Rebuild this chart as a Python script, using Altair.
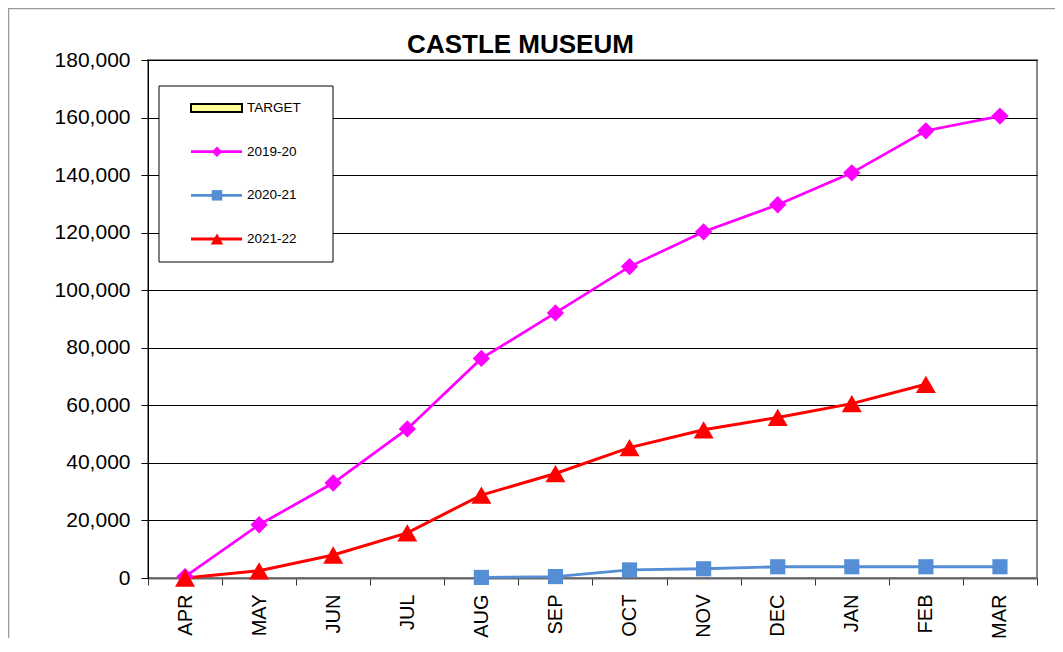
import altair as alt
import pandas as pd

# ---------------- data ----------------
months = ["APR", "MAY", "JUN", "JUL", "AUG", "SEP", "OCT", "NOV", "DEC", "JAN", "FEB", "MAR"]
series_names = ["TARGET", "2019-20", "2020-21", "2021-22"]
visitors_2019_20 = [500, 18500, 33000, 51800, 76300, 92100, 108200, 120300, 129700, 140800, 155400, 160500]
visitors_2020_21 = [None, None, None, None, 200, 500, 2800, 3200, 3900, 3900, 3900, 3900]
visitors_2021_22 = [0, 2500, 8000, 15700, 28800, 36300, 45300, 51500, 55800, 60600, 67300, None]
y_ticks = [0, 20000, 40000, 60000, 80000, 100000, 120000, 140000, 160000, 180000]
title_text = "CASTLE MUSEUM"

rows = []
for name, vals in [("2019-20", visitors_2019_20), ("2020-21", visitors_2020_21), ("2021-22", visitors_2021_22)]:
    for m, v in zip(months, vals):
        if v is not None:
            rows.append({"month": m, "series": name, "visitors": v})
df = pd.DataFrame(rows)
legend_df = pd.DataFrame({"series": series_names})
one_row = pd.DataFrame({"k": [0]})

FONT = "Liberation Sans"
line_series = series_names[1:]
color_scale = alt.Scale(domain=line_series, range=["#FF00FF", "#558ED5", "#FF0000"])
shape_scale = alt.Scale(domain=line_series, range=["diamond", "square", "triangle-up"])
width_scale = alt.Scale(domain=line_series, range=[2.7, 3, 4.5])
size_scale = alt.Scale(type="ordinal", domain=line_series, range=[300, 230, 400])
legend_size_scale = alt.Scale(type="ordinal", domain=line_series, range=[110, 110, 160])

x_enc = alt.X(
    "month:N", sort=months, bandPosition=0.5,
    scale=alt.Scale(type="band", domain=months, paddingInner=0, paddingOuter=0),
    axis=alt.Axis(title=None, labelAngle=270, tickBand="extent", labelFontSize=20,
                  labelPadding=9, tickSize=7, tickColor="#333333", domainColor="#666666",
                  domainWidth=2, grid=False, labelFont=FONT, labelColor="black"),
)
y_enc = alt.Y(
    "visitors:Q", scale=alt.Scale(domain=[0, 180000], nice=False),
    axis=alt.Axis(title=None, values=y_ticks, format=",.0f", labelFontSize=21, labelPadding=11,
                  tickSize=7, tickColor="black", domainColor="black", grid=True,
                  gridColor="black", gridWidth=1, labelFont=FONT, labelColor="black"),
)

lines = alt.Chart(df).mark_line().encode(
    x=x_enc, y=y_enc,
    color=alt.Color("series:N", scale=color_scale, legend=None),
    strokeWidth=alt.StrokeWidth("series:N", scale=width_scale, legend=None),
    detail="series:N",
)
points = alt.Chart(df).mark_point(filled=True, opacity=1).encode(
    x=x_enc, y=y_enc,
    color=alt.Color("series:N", scale=color_scale, legend=None),
    shape=alt.Shape("series:N", scale=shape_scale, legend=None),
    size=alt.Size("series:N", scale=size_scale, legend=None),
)
main = alt.layer(lines, points)

# ---------------- legend (drawn inside plot) ----------------
ly = alt.Y("series:N", scale=alt.Scale(type="point", domain=series_names, range=[48, 179], padding=0), axis=None)
box = alt.Chart(one_row).mark_rect(fill="white", stroke="black", strokeWidth=1).encode(
    x=alt.value(11), x2=alt.value(185), y=alt.value(26), y2=alt.value(202)
)
lrules = alt.Chart(legend_df).transform_filter(alt.datum.series != "TARGET").mark_rule().encode(
    x=alt.value(43), x2=alt.value(94), y=ly,
    color=alt.Color("series:N", scale=color_scale, legend=None),
    strokeWidth=alt.StrokeWidth("series:N", scale=width_scale, legend=None),
)
ltarget = alt.Chart(legend_df).transform_filter(alt.datum.series == "TARGET").mark_point(
    filled=True, shape="M-1,-0.16H1V0.16H-1Z", size=2601, fill="#FFFF99", stroke="black",
    strokeWidth=2, opacity=1
).encode(x=alt.value(68.5), y=ly)
lpoints = alt.Chart(legend_df).transform_filter(alt.datum.series != "TARGET").mark_point(
    filled=True, opacity=1
).encode(
    x=alt.value(69), y=ly,
    color=alt.Color("series:N", scale=color_scale, legend=None),
    shape=alt.Shape("series:N", scale=shape_scale, legend=None),
    size=alt.Size("series:N", scale=legend_size_scale, legend=None),
)
ltext = alt.Chart(legend_df).mark_text(align="left", baseline="middle", fontSize=13.5, font=FONT, color="black").encode(
    x=alt.value(99), y=ly, text="series:N"
)
legend = alt.layer(box, lrules, ltarget, lpoints, ltext)

# chart-area border (top and left edges) and title
border_left = alt.Chart(one_row).mark_rule(color="#999999", strokeWidth=1.5).encode(
    x=alt.value(-139.5), y=alt.value(-52), y2=alt.value(600)
)
border_top = alt.Chart(one_row).mark_rule(color="#999999", strokeWidth=1.5).encode(
    x=alt.value(-140), x2=alt.value(920), y=alt.value(-51.5)
)
title = alt.Chart(one_row).mark_text(
    font=FONT, fontSize=26, fontWeight="bold", color="black", align="center", baseline="alphabetic"
).encode(x=alt.value(372.5), y=alt.value(-7), text=alt.value(title_text))

chart = alt.layer(border_left, border_top, title, main, legend).resolve_scale(
    y="independent", size="independent", shape="independent", strokeWidth="independent"
).properties(
    width=889, height=518,
    autosize=alt.AutoSizeParams(type="none"),
    padding={"left": 140, "top": 52, "right": 18, "bottom": 60},
).configure_view(stroke="#888888", strokeWidth=2)

chart.save("out.html", embed_options={"renderer": "svg", "actions": False})
